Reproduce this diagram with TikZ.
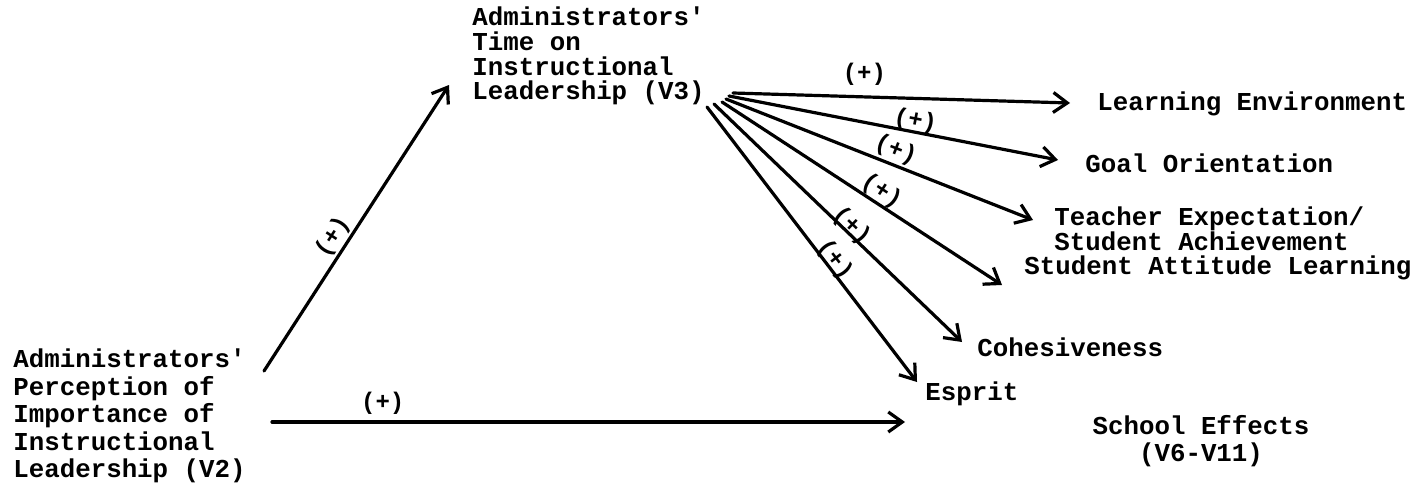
\documentclass[tikz,border=0pt]{standalone}
\usepackage{fontspec}
\setmonofont{Liberation Mono}
\usetikzlibrary{arrows.meta}
\newcommand{\twfont}{\ttfamily\bfseries\fontsize{12.9pt}{12.35pt}\selectfont}
\newcommand{\twwide}{\ttfamily\bfseries\fontsize{12.9pt}{13.75pt}\selectfont}
\newcommand{\twtight}{\ttfamily\bfseries\fontsize{12.9pt}{12.5pt}\selectfont}
\newcommand{\twse}{\ttfamily\bfseries\fontsize{12.9pt}{13.5pt}\selectfont}
\newcommand{\plfont}{\ttfamily\bfseries\fontsize{12pt}{12pt}\selectfont}
\begin{document}
\begin{tikzpicture}[x=0.5pt,y=-0.5pt,
  txt/.style={font=\twfont, inner sep=0pt, align=left, anchor=west},
  arr/.style={line width=1.6pt, line cap=round,
    -{Straight Barb[length=7pt,width=10pt,line width=1.6pt]}},
  plus/.style={font=\plfont, inner sep=0pt}]
\useasboundingbox (0,0) rectangle (1416,498);

% variable blocks
\node[txt] (v3) at (472,56) {Administrators'\\Time on\\Instructional\\Leadership (V3)};
\node[txt, font=\twwide] (v2) at (13,416) {Administrators'\\Perception of\\Importance of\\Instructional\\Leadership (V2)};

% school effects
\node[txt] (le)  at (1097,104) {Learning Environment};
\node[txt] (go)  at (1085,163) {Goal Orientation};
\node[txt, font=\twtight] (te)  at (1054,229) {Teacher Expectation/\\Student Achievement};
\node[txt] (sa)  at (1024,268) {Student Attitude Learning};
\node[txt] (coh) at (977,347) {Cohesiveness};
\node[txt] (esp) at (925,394) {Esprit};
\node[txt, align=center, anchor=center, font=\twse] (se) at (1201,441) {School Effects\\(V6-V11)};

% start points of the fan
\coordinate (a1) at (733,93);
\coordinate (a2) at (729,96);
\coordinate (a3) at (726,99);
\coordinate (a4) at (722,102);
\coordinate (a5) at (714,104);
\coordinate (a6) at (707,107);
\coordinate (b0) at (264,371);
\coordinate (h0) at (272,422);
\coordinate (h1) at (905,422);

\draw[arr] (a1) -- node[plus, pos=0.39, above=5pt] {(+)} ([shift={(-27,-1)}]le.west);
\draw[arr] (a2) -- node[plus, pos=0.56, sloped, above=-1pt] {(+)} ([shift={(-27,-3)}]go.west);
\draw[arr] (a3) -- node[plus, pos=0.535, sloped, above=1pt] {(+)} ([shift={(-21,-9)}]te.west);
\draw[arr] (a4) -- node[plus, pos=0.545, sloped, above=0pt] {(+)} ([shift={(-22,17)}]sa.west);
\draw[arr] (a5) -- node[plus, pos=0.535, sloped, above=-3pt] {(+)} ([shift={(-15,-5)}]coh.west);
\draw[arr] (a6) -- node[plus, pos=0.575, sloped, above=-2pt] {(+)} ([shift={(-8,-12)}]esp.west);

\draw[arr] (b0) -- node[plus, pos=0.44, sloped, above=1pt] {(+)} ([shift={(-23,29)}]v3.west);
\draw[arr] (h0) -- node[plus, pos=0.175, above=3pt] {(+)} (h1);
\end{tikzpicture}
\end{document}
